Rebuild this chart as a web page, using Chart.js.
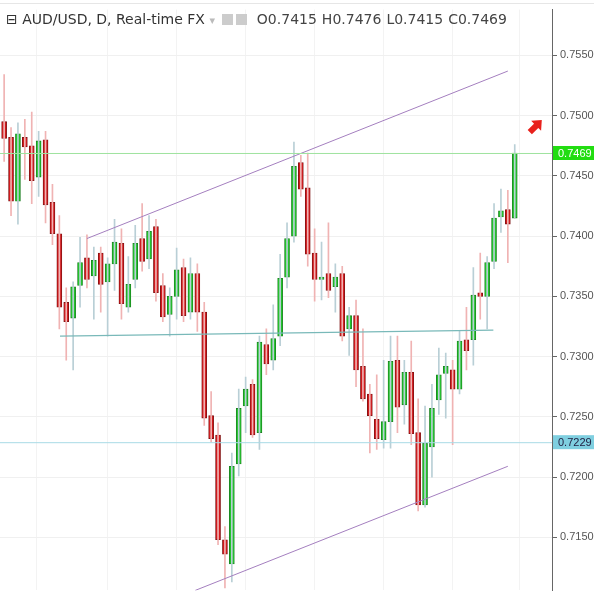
<!DOCTYPE html>
<html>
<head>
<meta charset="utf-8">
<script src="https://cdn.jsdelivr.net/npm/chart.js@4/dist/chart.umd.min.js"></script>
<style>
  body{margin:0;background:#fff;font-family:"DejaVu Sans",sans-serif;}
  #wrap{position:relative;width:594px;height:600px;}
  #hdr{position:absolute;left:6px;top:11px;font-size:14px;color:#333;white-space:nowrap;}
  #hdr .k{color:#444;margin-left:5px}
  #hdr .ic{display:inline-block;width:11px;height:11px;background:#ccc;margin-left:3px;vertical-align:-1px}
  #topline{position:absolute;left:0;top:0;width:594px;height:3px;border-bottom:1px solid #e6e6e6}
</style>
</head>
<body>
<div id="wrap">
  <canvas id="c" width="594" height="600"></canvas>
  <div id="topline"></div>
  <div id="hdr">&#8863; AUD/USD, D, Real-time FX <span style="color:#bbb;font-size:11px">&#9662;</span>
    <span class="ic"></span><span class="ic"></span>
    <span class="k">O0.7415</span><span class="k">H0.7476</span><span class="k">L0.7415</span><span class="k">C0.7469</span></div>
</div>
<script>
// daily candles
const opens  = [0.7495,0.7482,0.7429,0.7482,0.7475,0.7449,0.7480,0.7428,0.7402,0.7345,0.7332,0.7359,0.7382,0.7367,0.7386,0.7362,0.7377,0.7394,0.7341,0.7364,0.7398,0.7381,0.7408,0.7359,0.7335,0.7350,0.7374,0.7337,0.7369,0.7337,0.7251,0.7235,0.7148,0.7128,0.7211,0.7259,0.7277,0.7237,0.7310,0.7297,0.7317,0.7366,0.7400,0.7461,0.7440,0.7386,0.7364,0.7369,0.7358,0.7369,0.7323,0.7334,0.7292,0.7269,0.7248,0.7231,0.7246,0.7297,0.7260,0.7287,0.7237,0.7177,0.7225,0.7264,0.7286,0.7289,0.7273,0.7314,0.7314,0.7353,0.7350,0.7379,0.7416,0.7422,0.7415];
const highs  = [0.7534,0.7490,0.7494,0.7497,0.7503,0.7487,0.7487,0.7443,0.7417,0.7357,0.7362,0.7399,0.7401,0.7391,0.7391,0.7382,0.7414,0.7406,0.7383,0.7409,0.7427,0.7417,0.7414,0.7369,0.7357,0.7390,0.7381,0.7382,0.7377,0.7345,0.7271,0.7245,0.7159,0.7220,0.7273,0.7283,0.7281,0.7317,0.7323,0.7343,0.7385,0.7411,0.7478,0.7467,0.7469,0.7406,0.7395,0.7411,0.7377,0.7375,0.7341,0.7347,0.7323,0.7277,0.7285,0.7297,0.7317,0.7317,0.7297,0.7313,0.7265,0.7259,0.7277,0.7307,0.7303,0.7297,0.7321,0.7341,0.7374,0.7386,0.7383,0.7427,0.7439,0.7438,0.7476];
const lows   = [0.7462,0.7417,0.7410,0.7447,0.7427,0.7433,0.7411,0.7393,0.7323,0.7297,0.7289,0.7341,0.7357,0.7331,0.7337,0.7317,0.7355,0.7331,0.7337,0.7357,0.7371,0.7373,0.7346,0.7329,0.7317,0.7331,0.7329,0.7331,0.7321,0.7243,0.7229,0.7144,0.7108,0.7113,0.7201,0.7237,0.7233,0.7223,0.7285,0.7289,0.7309,0.7357,0.7395,0.7433,0.7375,0.7346,0.7347,0.7349,0.7337,0.7313,0.7301,0.7275,0.7263,0.7220,0.7223,0.7224,0.7224,0.7237,0.7244,0.7227,0.7172,0.7175,0.7200,0.7252,0.7249,0.7227,0.7269,0.7289,0.7293,0.7331,0.7323,0.7373,0.7403,0.7378,0.7415];
const closes = [0.7481,0.7429,0.7485,0.7474,0.7446,0.7479,0.7426,0.7402,0.7341,0.7329,0.7358,0.7378,0.7364,0.7380,0.7360,0.7377,0.7395,0.7344,0.7360,0.7394,0.7379,0.7404,0.7353,0.7333,0.7350,0.7372,0.7334,0.7369,0.7337,0.7249,0.7232,0.7148,0.7136,0.7209,0.7257,0.7273,0.7235,0.7312,0.7294,0.7315,0.7365,0.7398,0.7458,0.7439,0.7385,0.7364,0.7366,0.7355,0.7366,0.7317,0.7334,0.7289,0.7265,0.7251,0.7232,0.7246,0.7296,0.7258,0.7287,0.7236,0.7177,0.7228,0.7257,0.7285,0.7292,0.7273,0.7313,0.7305,0.7351,0.7350,0.7378,0.7415,0.7421,0.7410,0.7469];

// drawn lines: [x index, price]
const upperChannel = [[12, 0.7398], [73, 0.7537]];
const lowerChannel = [[27.7, 0.7106], [73, 0.7209]];
const midLine      = [[8.1, 0.7317], [70.9, 0.7322]];
const yTicks = [0.7150, 0.7200, 0.7250, 0.7300, 0.7350, 0.7400, 0.7450, 0.7500, 0.7550];
const lastPrice = 0.7469;
const levelPrice = 0.7229;
const arrowAt = [77, 0.7491];

const UP = '#21c42a', DOWN = '#d2191c';
const isUp = closes.map((c, i) => c >= opens[i]);

const wicks = highs.map((h, i) => ({x: i, y: [lows[i], h]}));
const bodies = closes.map((c, i) => ({x: i, y: [Math.min(opens[i], c), Math.max(opens[i], c)]}));
const toPts = a => a.map(p => ({x: p[0], y: p[1]}));
const LABEL_FONT = '11px "Liberation Sans", Arial, sans-serif';

const overlay = {
  id: 'overlay',
  afterDatasetsDraw(chart) {
    const {ctx, scales: {x, y}, chartArea} = chart;
    ctx.save();
    [[lastPrice, '#9fe39f'], [levelPrice, '#a8dbe6']].forEach(([p, col]) => {
      const py = y.getPixelForValue(p);
      ctx.strokeStyle = col; ctx.lineWidth = 1;
      ctx.beginPath(); ctx.moveTo(chartArea.left, py + 0.5); ctx.lineTo(chartArea.right, py + 0.5); ctx.stroke();
    });
    // arrow
    const ax = x.getPixelForValue(arrowAt[0]), ay = y.getPixelForValue(arrowAt[1]);
    ctx.translate(ax, ay); ctx.rotate(Math.PI / 4);
    ctx.fillStyle = '#e8211c';
    ctx.beginPath();
    ctx.moveTo(0, -9); ctx.lineTo(7, -1); ctx.lineTo(3, -1); ctx.lineTo(3, 8);
    ctx.lineTo(-3, 8); ctx.lineTo(-3, -1); ctx.lineTo(-7, -1); ctx.closePath(); ctx.fill();
    ctx.restore();
  },
  afterDraw(chart) {
    const {ctx, scales: {y}, chartArea} = chart;
    ctx.save();
    ctx.font = LABEL_FONT;
    ctx.textBaseline = 'middle';
    [[lastPrice, '#22dd11', '#fff'], [levelPrice, '#7fcfe0', '#224']].forEach(([p, bg, fg]) => {
      const py = y.getPixelForValue(p);
      ctx.fillStyle = bg;
      ctx.fillRect(chartArea.right + 1, py - 7, 41, 14);
      ctx.fillStyle = fg;
      ctx.fillText(p.toFixed(4), chartArea.right + 6, py + 1);
    });
    ctx.restore();
  }
};

new Chart(document.getElementById('c'), {
  type: 'bar',
  data: {
    datasets: [
      {type: 'line', data: toPts(upperChannel), borderColor: '#a47fbf', borderWidth: 1, pointRadius: 0},
      {type: 'line', data: toPts(lowerChannel), borderColor: '#a47fbf', borderWidth: 1, pointRadius: 0},
      {type: 'line', data: toPts(midLine), borderColor: '#79b9b9', borderWidth: 1.2, pointRadius: 0},
      {data: wicks, grouped: false, barThickness: 1,
       backgroundColor: isUp.map(u => u ? '#b9cfd6' : '#f0b3b3')},
      {data: bodies, grouped: false, barThickness: 5, borderSkipped: false, borderWidth: 0.8,
       backgroundColor: isUp.map(u => u ? UP : DOWN),
       borderColor: isUp.map(u => u ? '#1a7d1f' : '#7a1010')}
    ]
  },
  options: {
    responsive: false,
    animation: false,
    layout: {padding: 0},
    plugins: {legend: {display: false}, tooltip: {enabled: false}},
    scales: {
      x: {type: 'linear', offset: false, min: -0.6, max: 79.4, display: true,
          ticks: {display: false}, border: {display: false},
          grid: {color: '#f3f3f3', drawTicks: false}},
      y: {position: 'right', min: 0.7106, max: 0.7588, afterFit: s => { s.width = 42; },
          afterBuildTicks: s => { s.ticks = yTicks.map(v => ({value: v})); },
          border: {color: '#666'},
          grid: {color: '#f0f0f0', tickLength: 5, tickColor: '#666'},
          ticks: {color: '#555', padding: 3,
                  font: {family: 'Liberation Sans', size: 11},
                  callback: v => v.toFixed(4)}}
    }
  },
  plugins: [overlay]
});
</script>
</body>
</html>
